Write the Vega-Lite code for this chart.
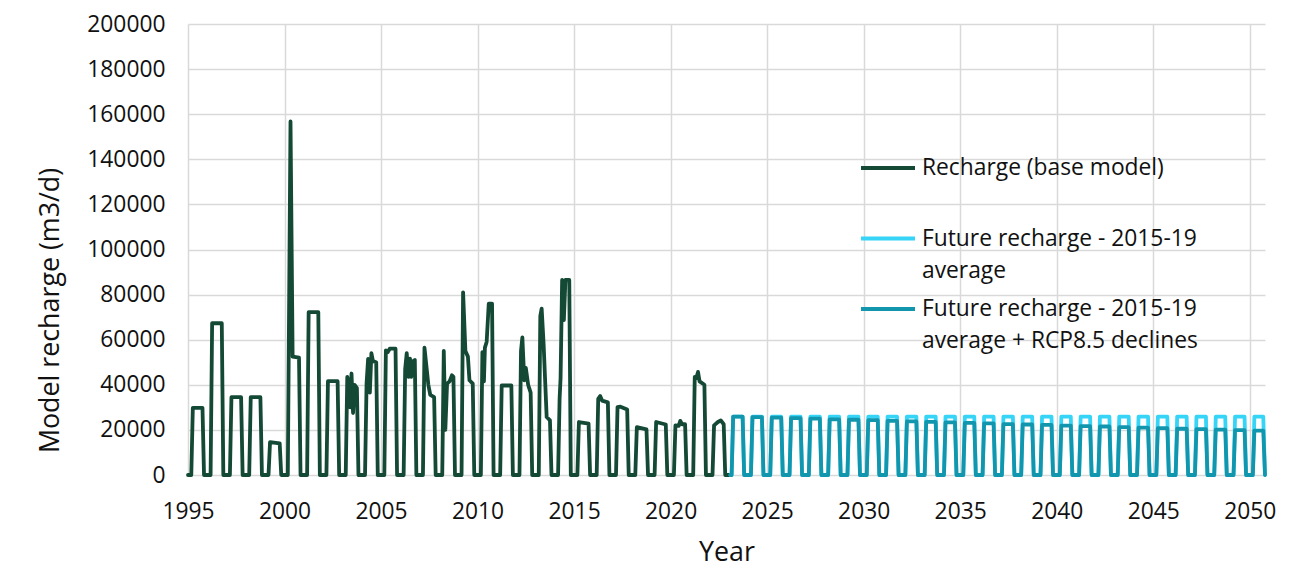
{
  "$schema": "https://vega.github.io/schema/vega-lite/v6.json",
  "width": 1077,
  "height": 451,
  "autosize": {"type": "none"},
  "padding": {"left": 188, "top": 24, "right": 41, "bottom": 107},
  "background": "white",
  "config": {
    "font": "Open Sans",
    "view": {"stroke": null},
    "axis": {
      "domain": false,
      "ticks": false,
      "gridColor": "#D9D9D9",
      "gridWidth": 1.5,
      "labelColor": "#111111",
      "titleColor": "#111111",
      "titleFontWeight": "normal",
      "labelFontSize": 22.8,
      "titleFontSize": 26.8
    }
  },
  "data": {
    "values": [
      {"s":"base","t":1995,"v":0},
      {"s":"base","t":1995.17,"v":0},{"s":"base","t":1995.25,"v":29800},{"s":"base","t":1995.75,"v":29800},{"s":"base","t":1995.83,"v":0},
      {"s":"base","t":1996.17,"v":0},{"s":"base","t":1996.25,"v":67300},{"s":"base","t":1996.75,"v":67300},{"s":"base","t":1996.83,"v":0},
      {"s":"base","t":1997.17,"v":0},{"s":"base","t":1997.25,"v":34500},{"s":"base","t":1997.75,"v":34500},{"s":"base","t":1997.83,"v":0},
      {"s":"base","t":1998.17,"v":0},{"s":"base","t":1998.25,"v":34500},{"s":"base","t":1998.75,"v":34500},{"s":"base","t":1998.83,"v":0},
      {"s":"base","t":1999.17,"v":0},{"s":"base","t":1999.25,"v":14600},{"s":"base","t":1999.75,"v":14000},{"s":"base","t":1999.83,"v":0},
      {"s":"base","t":2000.17,"v":0},{"s":"base","t":2000.31,"v":156800},{"s":"base","t":2000.42,"v":52500},{"s":"base","t":2000.75,"v":52000},{"s":"base","t":2000.83,"v":0},
      {"s":"base","t":2001.17,"v":0},{"s":"base","t":2001.25,"v":72200},{"s":"base","t":2001.75,"v":72200},{"s":"base","t":2001.83,"v":0},
      {"s":"base","t":2002.17,"v":0},{"s":"base","t":2002.25,"v":41600},{"s":"base","t":2002.75,"v":41600},{"s":"base","t":2002.83,"v":0},
      {"s":"base","t":2003.17,"v":0},{"s":"base","t":2003.25,"v":43500},{"s":"base","t":2003.33,"v":41000},{"s":"base","t":2003.4,"v":30000},{"s":"base","t":2003.47,"v":45000},{"s":"base","t":2003.55,"v":27500},{"s":"base","t":2003.63,"v":40000},{"s":"base","t":2003.75,"v":38500},{"s":"base","t":2003.83,"v":0},
      {"s":"base","t":2004.17,"v":0},{"s":"base","t":2004.25,"v":40500},{"s":"base","t":2004.33,"v":51500},{"s":"base","t":2004.42,"v":36500},{"s":"base","t":2004.5,"v":54000},{"s":"base","t":2004.58,"v":50500},{"s":"base","t":2004.75,"v":50000},{"s":"base","t":2004.83,"v":0},
      {"s":"base","t":2005.17,"v":0},{"s":"base","t":2005.25,"v":55300},{"s":"base","t":2005.35,"v":54500},{"s":"base","t":2005.45,"v":56000},{"s":"base","t":2005.75,"v":56000},{"s":"base","t":2005.83,"v":0},
      {"s":"base","t":2006.17,"v":0},{"s":"base","t":2006.25,"v":47000},{"s":"base","t":2006.33,"v":54000},{"s":"base","t":2006.42,"v":43500},{"s":"base","t":2006.5,"v":51600},{"s":"base","t":2006.56,"v":43500},{"s":"base","t":2006.67,"v":50500},{"s":"base","t":2006.75,"v":51000},{"s":"base","t":2006.83,"v":0},
      {"s":"base","t":2007.17,"v":0},{"s":"base","t":2007.25,"v":56500},{"s":"base","t":2007.45,"v":40000},{"s":"base","t":2007.55,"v":35500},{"s":"base","t":2007.75,"v":34500},{"s":"base","t":2007.83,"v":0},
      {"s":"base","t":2008.17,"v":0},{"s":"base","t":2008.25,"v":55000},{"s":"base","t":2008.33,"v":20000},{"s":"base","t":2008.42,"v":40500},{"s":"base","t":2008.55,"v":41500},{"s":"base","t":2008.67,"v":44200},{"s":"base","t":2008.75,"v":43500},{"s":"base","t":2008.83,"v":0},
      {"s":"base","t":2009.17,"v":0},{"s":"base","t":2009.25,"v":81000},{"s":"base","t":2009.37,"v":55000},{"s":"base","t":2009.5,"v":52500},{"s":"base","t":2009.58,"v":42000},{"s":"base","t":2009.75,"v":40500},{"s":"base","t":2009.83,"v":0},
      {"s":"base","t":2010.17,"v":0},{"s":"base","t":2010.25,"v":54500},{"s":"base","t":2010.33,"v":41500},{"s":"base","t":2010.38,"v":56500},{"s":"base","t":2010.47,"v":59000},{"s":"base","t":2010.58,"v":76000},{"s":"base","t":2010.75,"v":76000},{"s":"base","t":2010.83,"v":0},
      {"s":"base","t":2011.17,"v":0},{"s":"base","t":2011.25,"v":39700},{"s":"base","t":2011.75,"v":39700},{"s":"base","t":2011.83,"v":0},
      {"s":"base","t":2012.17,"v":0},{"s":"base","t":2012.25,"v":55000},{"s":"base","t":2012.32,"v":61000},{"s":"base","t":2012.42,"v":42000},{"s":"base","t":2012.5,"v":47500},{"s":"base","t":2012.62,"v":40000},{"s":"base","t":2012.75,"v":36500},{"s":"base","t":2012.83,"v":0},
      {"s":"base","t":2013.17,"v":0},{"s":"base","t":2013.25,"v":70500},{"s":"base","t":2013.32,"v":73800},{"s":"base","t":2013.42,"v":58300},{"s":"base","t":2013.58,"v":25700},{"s":"base","t":2013.75,"v":24200},{"s":"base","t":2013.83,"v":0},
      {"s":"base","t":2014.17,"v":0},{"s":"base","t":2014.25,"v":34000},{"s":"base","t":2014.3,"v":43000},{"s":"base","t":2014.38,"v":86500},{"s":"base","t":2014.47,"v":68700},{"s":"base","t":2014.55,"v":86500},{"s":"base","t":2014.75,"v":86500},{"s":"base","t":2014.83,"v":0},
      {"s":"base","t":2015.17,"v":0},{"s":"base","t":2015.25,"v":23500},{"s":"base","t":2015.75,"v":22800},{"s":"base","t":2015.83,"v":0},
      {"s":"base","t":2016.17,"v":0},{"s":"base","t":2016.25,"v":33800},{"s":"base","t":2016.35,"v":35000},{"s":"base","t":2016.45,"v":33000},{"s":"base","t":2016.75,"v":32200},{"s":"base","t":2016.83,"v":0},
      {"s":"base","t":2017.17,"v":0},{"s":"base","t":2017.25,"v":30100},{"s":"base","t":2017.4,"v":30300},{"s":"base","t":2017.75,"v":29000},{"s":"base","t":2017.83,"v":0},
      {"s":"base","t":2018.17,"v":0},{"s":"base","t":2018.25,"v":21200},{"s":"base","t":2018.75,"v":20200},{"s":"base","t":2018.83,"v":0},
      {"s":"base","t":2019.17,"v":0},{"s":"base","t":2019.25,"v":23500},{"s":"base","t":2019.75,"v":22400},{"s":"base","t":2019.83,"v":0},
      {"s":"base","t":2020.17,"v":0},{"s":"base","t":2020.25,"v":22000},{"s":"base","t":2020.42,"v":21800},{"s":"base","t":2020.5,"v":24000},{"s":"base","t":2020.6,"v":22500},{"s":"base","t":2020.75,"v":22500},{"s":"base","t":2020.83,"v":0},
      {"s":"base","t":2021.17,"v":0},{"s":"base","t":2021.25,"v":43500},{"s":"base","t":2021.33,"v":43000},{"s":"base","t":2021.42,"v":45700},{"s":"base","t":2021.5,"v":41500},{"s":"base","t":2021.75,"v":40000},{"s":"base","t":2021.83,"v":0},
      {"s":"base","t":2022.17,"v":0},{"s":"base","t":2022.25,"v":22000},{"s":"base","t":2022.45,"v":23500},{"s":"base","t":2022.6,"v":24200},{"s":"base","t":2022.75,"v":22500},{"s":"base","t":2022.83,"v":0},
      {"s":"base","t":2023.1,"v":0},

      {"s":"avg","t":2023.1,"v":0},
      {"s":"avg","t":2023.16,"v":0},{"s":"avg","t":2023.24,"v":25900},{"s":"avg","t":2023.73,"v":25900},{"s":"avg","t":2023.81,"v":0},
      {"s":"avg","t":2024.16,"v":0},{"s":"avg","t":2024.24,"v":25900},{"s":"avg","t":2024.73,"v":25900},{"s":"avg","t":2024.81,"v":0},
      {"s":"avg","t":2025.16,"v":0},{"s":"avg","t":2025.24,"v":25900},{"s":"avg","t":2025.73,"v":25900},{"s":"avg","t":2025.81,"v":0},
      {"s":"avg","t":2026.16,"v":0},{"s":"avg","t":2026.24,"v":25900},{"s":"avg","t":2026.73,"v":25900},{"s":"avg","t":2026.81,"v":0},
      {"s":"avg","t":2027.16,"v":0},{"s":"avg","t":2027.24,"v":25900},{"s":"avg","t":2027.73,"v":25900},{"s":"avg","t":2027.81,"v":0},
      {"s":"avg","t":2028.16,"v":0},{"s":"avg","t":2028.24,"v":25900},{"s":"avg","t":2028.73,"v":25900},{"s":"avg","t":2028.81,"v":0},
      {"s":"avg","t":2029.16,"v":0},{"s":"avg","t":2029.24,"v":25900},{"s":"avg","t":2029.73,"v":25900},{"s":"avg","t":2029.81,"v":0},
      {"s":"avg","t":2030.16,"v":0},{"s":"avg","t":2030.24,"v":25900},{"s":"avg","t":2030.73,"v":25900},{"s":"avg","t":2030.81,"v":0},
      {"s":"avg","t":2031.16,"v":0},{"s":"avg","t":2031.24,"v":25900},{"s":"avg","t":2031.73,"v":25900},{"s":"avg","t":2031.81,"v":0},
      {"s":"avg","t":2032.16,"v":0},{"s":"avg","t":2032.24,"v":25900},{"s":"avg","t":2032.73,"v":25900},{"s":"avg","t":2032.81,"v":0},
      {"s":"avg","t":2033.16,"v":0},{"s":"avg","t":2033.24,"v":25900},{"s":"avg","t":2033.73,"v":25900},{"s":"avg","t":2033.81,"v":0},
      {"s":"avg","t":2034.16,"v":0},{"s":"avg","t":2034.24,"v":25900},{"s":"avg","t":2034.73,"v":25900},{"s":"avg","t":2034.81,"v":0},
      {"s":"avg","t":2035.16,"v":0},{"s":"avg","t":2035.24,"v":25900},{"s":"avg","t":2035.73,"v":25900},{"s":"avg","t":2035.81,"v":0},
      {"s":"avg","t":2036.16,"v":0},{"s":"avg","t":2036.24,"v":25900},{"s":"avg","t":2036.73,"v":25900},{"s":"avg","t":2036.81,"v":0},
      {"s":"avg","t":2037.16,"v":0},{"s":"avg","t":2037.24,"v":25900},{"s":"avg","t":2037.73,"v":25900},{"s":"avg","t":2037.81,"v":0},
      {"s":"avg","t":2038.16,"v":0},{"s":"avg","t":2038.24,"v":25900},{"s":"avg","t":2038.73,"v":25900},{"s":"avg","t":2038.81,"v":0},
      {"s":"avg","t":2039.16,"v":0},{"s":"avg","t":2039.24,"v":25900},{"s":"avg","t":2039.73,"v":25900},{"s":"avg","t":2039.81,"v":0},
      {"s":"avg","t":2040.16,"v":0},{"s":"avg","t":2040.24,"v":25900},{"s":"avg","t":2040.73,"v":25900},{"s":"avg","t":2040.81,"v":0},
      {"s":"avg","t":2041.16,"v":0},{"s":"avg","t":2041.24,"v":25900},{"s":"avg","t":2041.73,"v":25900},{"s":"avg","t":2041.81,"v":0},
      {"s":"avg","t":2042.16,"v":0},{"s":"avg","t":2042.24,"v":25900},{"s":"avg","t":2042.73,"v":25900},{"s":"avg","t":2042.81,"v":0},
      {"s":"avg","t":2043.16,"v":0},{"s":"avg","t":2043.24,"v":25900},{"s":"avg","t":2043.73,"v":25900},{"s":"avg","t":2043.81,"v":0},
      {"s":"avg","t":2044.16,"v":0},{"s":"avg","t":2044.24,"v":25900},{"s":"avg","t":2044.73,"v":25900},{"s":"avg","t":2044.81,"v":0},
      {"s":"avg","t":2045.16,"v":0},{"s":"avg","t":2045.24,"v":25900},{"s":"avg","t":2045.73,"v":25900},{"s":"avg","t":2045.81,"v":0},
      {"s":"avg","t":2046.16,"v":0},{"s":"avg","t":2046.24,"v":25900},{"s":"avg","t":2046.73,"v":25900},{"s":"avg","t":2046.81,"v":0},
      {"s":"avg","t":2047.16,"v":0},{"s":"avg","t":2047.24,"v":25900},{"s":"avg","t":2047.73,"v":25900},{"s":"avg","t":2047.81,"v":0},
      {"s":"avg","t":2048.16,"v":0},{"s":"avg","t":2048.24,"v":25900},{"s":"avg","t":2048.73,"v":25900},{"s":"avg","t":2048.81,"v":0},
      {"s":"avg","t":2049.16,"v":0},{"s":"avg","t":2049.24,"v":25900},{"s":"avg","t":2049.73,"v":25900},{"s":"avg","t":2049.81,"v":0},
      {"s":"avg","t":2050.16,"v":0},{"s":"avg","t":2050.24,"v":25900},{"s":"avg","t":2050.7,"v":25900},{"s":"avg","t":2050.79,"v":0},

      {"s":"rcp","t":2023.1,"v":0},
      {"s":"rcp","t":2023.16,"v":0},{"s":"rcp","t":2023.24,"v":25900},{"s":"rcp","t":2023.73,"v":25900},{"s":"rcp","t":2023.81,"v":0},
      {"s":"rcp","t":2024.16,"v":0},{"s":"rcp","t":2024.24,"v":25700},{"s":"rcp","t":2024.73,"v":25700},{"s":"rcp","t":2024.81,"v":0},
      {"s":"rcp","t":2025.16,"v":0},{"s":"rcp","t":2025.24,"v":25400},{"s":"rcp","t":2025.73,"v":25400},{"s":"rcp","t":2025.81,"v":0},
      {"s":"rcp","t":2026.16,"v":0},{"s":"rcp","t":2026.24,"v":25200},{"s":"rcp","t":2026.73,"v":25200},{"s":"rcp","t":2026.81,"v":0},
      {"s":"rcp","t":2027.16,"v":0},{"s":"rcp","t":2027.24,"v":25000},{"s":"rcp","t":2027.73,"v":25000},{"s":"rcp","t":2027.81,"v":0},
      {"s":"rcp","t":2028.16,"v":0},{"s":"rcp","t":2028.24,"v":24700},{"s":"rcp","t":2028.73,"v":24700},{"s":"rcp","t":2028.81,"v":0},
      {"s":"rcp","t":2029.16,"v":0},{"s":"rcp","t":2029.24,"v":24500},{"s":"rcp","t":2029.73,"v":24500},{"s":"rcp","t":2029.81,"v":0},
      {"s":"rcp","t":2030.16,"v":0},{"s":"rcp","t":2030.24,"v":24300},{"s":"rcp","t":2030.73,"v":24300},{"s":"rcp","t":2030.81,"v":0},
      {"s":"rcp","t":2031.16,"v":0},{"s":"rcp","t":2031.24,"v":24000},{"s":"rcp","t":2031.73,"v":24000},{"s":"rcp","t":2031.81,"v":0},
      {"s":"rcp","t":2032.16,"v":0},{"s":"rcp","t":2032.24,"v":23800},{"s":"rcp","t":2032.73,"v":23800},{"s":"rcp","t":2032.81,"v":0},
      {"s":"rcp","t":2033.16,"v":0},{"s":"rcp","t":2033.24,"v":23600},{"s":"rcp","t":2033.73,"v":23600},{"s":"rcp","t":2033.81,"v":0},
      {"s":"rcp","t":2034.16,"v":0},{"s":"rcp","t":2034.24,"v":23300},{"s":"rcp","t":2034.73,"v":23300},{"s":"rcp","t":2034.81,"v":0},
      {"s":"rcp","t":2035.16,"v":0},{"s":"rcp","t":2035.24,"v":23100},{"s":"rcp","t":2035.73,"v":23100},{"s":"rcp","t":2035.81,"v":0},
      {"s":"rcp","t":2036.16,"v":0},{"s":"rcp","t":2036.24,"v":22900},{"s":"rcp","t":2036.73,"v":22900},{"s":"rcp","t":2036.81,"v":0},
      {"s":"rcp","t":2037.16,"v":0},{"s":"rcp","t":2037.24,"v":22600},{"s":"rcp","t":2037.73,"v":22600},{"s":"rcp","t":2037.81,"v":0},
      {"s":"rcp","t":2038.16,"v":0},{"s":"rcp","t":2038.24,"v":22400},{"s":"rcp","t":2038.73,"v":22400},{"s":"rcp","t":2038.81,"v":0},
      {"s":"rcp","t":2039.16,"v":0},{"s":"rcp","t":2039.24,"v":22200},{"s":"rcp","t":2039.73,"v":22200},{"s":"rcp","t":2039.81,"v":0},
      {"s":"rcp","t":2040.16,"v":0},{"s":"rcp","t":2040.24,"v":21900},{"s":"rcp","t":2040.73,"v":21900},{"s":"rcp","t":2040.81,"v":0},
      {"s":"rcp","t":2041.16,"v":0},{"s":"rcp","t":2041.24,"v":21700},{"s":"rcp","t":2041.73,"v":21700},{"s":"rcp","t":2041.81,"v":0},
      {"s":"rcp","t":2042.16,"v":0},{"s":"rcp","t":2042.24,"v":21500},{"s":"rcp","t":2042.73,"v":21500},{"s":"rcp","t":2042.81,"v":0},
      {"s":"rcp","t":2043.16,"v":0},{"s":"rcp","t":2043.24,"v":21200},{"s":"rcp","t":2043.73,"v":21200},{"s":"rcp","t":2043.81,"v":0},
      {"s":"rcp","t":2044.16,"v":0},{"s":"rcp","t":2044.24,"v":21000},{"s":"rcp","t":2044.73,"v":21000},{"s":"rcp","t":2044.81,"v":0},
      {"s":"rcp","t":2045.16,"v":0},{"s":"rcp","t":2045.24,"v":20800},{"s":"rcp","t":2045.73,"v":20800},{"s":"rcp","t":2045.81,"v":0},
      {"s":"rcp","t":2046.16,"v":0},{"s":"rcp","t":2046.24,"v":20500},{"s":"rcp","t":2046.73,"v":20500},{"s":"rcp","t":2046.81,"v":0},
      {"s":"rcp","t":2047.16,"v":0},{"s":"rcp","t":2047.24,"v":20300},{"s":"rcp","t":2047.73,"v":20300},{"s":"rcp","t":2047.81,"v":0},
      {"s":"rcp","t":2048.16,"v":0},{"s":"rcp","t":2048.24,"v":20100},{"s":"rcp","t":2048.73,"v":20100},{"s":"rcp","t":2048.81,"v":0},
      {"s":"rcp","t":2049.16,"v":0},{"s":"rcp","t":2049.24,"v":19900},{"s":"rcp","t":2049.73,"v":19900},{"s":"rcp","t":2049.81,"v":0},
      {"s":"rcp","t":2050.16,"v":0},{"s":"rcp","t":2050.24,"v":19700},{"s":"rcp","t":2050.7,"v":19700},{"s":"rcp","t":2050.79,"v":0}
    ]
  },
  "mark": {"type": "line", "strokeWidth": 3.8, "strokeJoin": "round", "strokeCap": "round"},
  "encoding": {
    "x": {
      "field": "t",
      "type": "quantitative",
      "scale": {"domain": [1995, 2050.79], "nice": false, "zero": false},
      "axis": {
        "title": "Year",
        "values": [1995, 2000, 2005, 2010, 2015, 2020, 2025, 2030, 2035, 2040, 2045, 2050],
        "format": "d",
        "labelFlush": false,
        "labelPadding": 25,
        "titlePadding": 17
      }
    },
    "y": {
      "field": "v",
      "type": "quantitative",
      "scale": {"domain": [0, 200000], "nice": false},
      "axis": {
        "title": "Model recharge (m3/d)",
        "values": [0, 20000, 40000, 60000, 80000, 100000, 120000, 140000, 160000, 180000, 200000],
        "format": "d",
        "labelPadding": 23,
        "titleX": -124,
        "titleY": 286
      }
    },
    "color": {
      "field": "s",
      "type": "nominal",
      "scale": {"domain": ["base", "avg", "rcp"], "range": ["#144A35", "#36D4F6", "#1296AE"]},
      "legend": {
        "title": null,
        "orient": "none",
        "legendX": 671,
        "legendY": 132,
        "padding": 0,
        "symbolType": "stroke",
        "symbolSize": 2916,
        "symbolStrokeWidth": 4,
        "clipHeight": 24,
        "labelFontSize": 22.8,
        "labelColor": "#111111",
        "labelOffset": 5,
        "labelLimit": 500,
        "rowPadding": 14.5,
        "gridAlign": "all",
        "labelExpr": "datum.value == 'base' ? 'Recharge (base model)' : datum.value == 'avg' ? ['Future recharge - 2015-19', 'average'] : ['Future recharge - 2015-19', 'average + RCP8.5 declines']",
        "encode": {"labels": {"update": {"lineHeight": {"value": 32}}}}
      }
    }
  }
}
